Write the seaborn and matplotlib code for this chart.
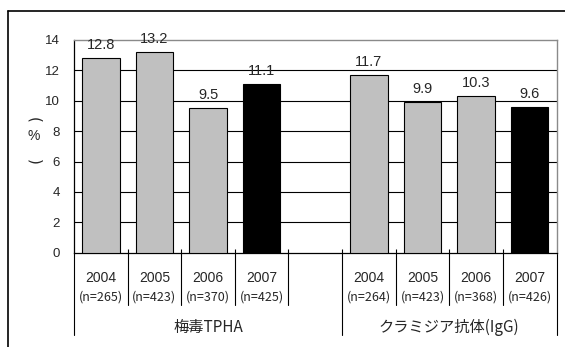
import matplotlib
matplotlib.use("Agg")
import matplotlib.pyplot as plt
from matplotlib.lines import Line2D
import matplotlib.transforms as mtransforms
import pandas as pd
import seaborn as sns

# --- data -------------------------------------------------------------
groups = ["梅毒TPHA", "クラミジア抗体(IgG)"]
years = ["2004", "2005", "2006", "2007"]
tpha_values = [12.8, 13.2, 9.5, 11.1]
tpha_n = [265, 423, 370, 425]
chlamydia_values = [11.7, 9.9, 10.3, 9.6]
chlamydia_n = [264, 423, 368, 426]
y_ticks = [0, 2, 4, 6, 8, 10, 12, 14]

rows = []
for g, vals, ns in [(groups[0], tpha_values, tpha_n),
                    (groups[1], chlamydia_values, chlamydia_n)]:
    for y, v, n in zip(years, vals, ns):
        rows.append({"slot": f"{g}|{y}", "group": g, "year": y, "n": n, "value": v})
df = pd.DataFrame(rows)

# one empty slot separates the two groups
order = [f"{groups[0]}|{y}" for y in years] + ["gap"] + [f"{groups[1]}|{y}" for y in years]
palette = {s: ("#000000" if s.endswith("2007") else "#C0C0C0") for s in df["slot"]}

# --- style ------------------------------------------------------------
sns.set_style("white")
plt.rcParams["font.family"] = ["Liberation Sans", "Noto Sans CJK JP", "DejaVu Sans"]
cjk = ["Noto Sans CJK JP", "DejaVu Sans"]

W, H = 565, 347
fig = plt.figure(figsize=(W / 100, H / 100), dpi=100)
x0, x1, y_top, y_bot = 74, 556.5, 40, 252.7
ax = fig.add_axes([x0 / W, (H - y_bot) / H, (x1 - x0) / W, (y_bot - y_top) / H])

sns.barplot(data=df, x="slot", y="value", hue="slot", order=order, palette=palette,
            dodge=False, width=0.7, edgecolor="black", linewidth=0.8,
            legend=False, ax=ax, zorder=3)

ax.set_ylim(0, 14)
ax.set_xlim(-0.5, len(order) - 0.5)
ax.set_yticks(y_ticks)
ax.set_yticklabels([str(t) for t in y_ticks], fontsize=9.5)
ax.tick_params(axis="y", length=0, pad=10)
ax.set_xlabel("")
ax.set_ylabel("")
ax.set_xticks([])
ax.set_xticks([i + 0.5 for i in range(len(order) - 1)], minor=True)
ax.tick_params(axis="x", which="minor", direction="in", length=3.2, width=0.8,
               color="black", bottom=True)

for t in y_ticks[1:-1]:
    ax.axhline(t, color="black", lw=0.8, zorder=1)

for side in ["left", "bottom"]:
    ax.spines[side].set_color("black")
    ax.spines[side].set_linewidth(0.9)
for side in ["top", "right"]:
    ax.spines[side].set_color("#8a8a8a")
    ax.spines[side].set_linewidth(1.0)
    ax.spines[side].set_visible(True)

# value labels above bars
for _, r in df.iterrows():
    pos = order.index(r["slot"])
    ax.annotate(f"{r['value']:.1f}", (pos, r["value"]), xytext=(0, 6.5),
                textcoords="offset points", ha="center", va="baseline",
                fontsize=10.5, zorder=4)

# category labels beneath the axis
trans = mtransforms.blended_transform_factory(ax.transData, ax.transAxes)
for _, r in df.iterrows():
    pos = order.index(r["slot"])
    ax.text(pos, -0.12, r["year"], transform=trans, ha="center", va="center", fontsize=10)
    ax.text(pos, -0.21, f"(n={r['n']})", transform=trans, ha="center", va="center",
            fontsize=9, family=cjk)

ax.text(2.0, -0.35, groups[0], transform=trans, ha="center", va="center",
        fontsize=11, family=cjk)
ax.text(6.5, -0.35, groups[1], transform=trans, ha="center", va="center",
        fontsize=11, family=cjk)

# separator lines between category cells and groups
short_end, long_end = -0.247, -0.389
for b in range(len(order) + 1):
    xb = b - 0.5
    end = long_end if b in (0, 5, len(order)) else short_end
    ax.add_line(Line2D([xb, xb], [0, end], transform=trans, color="black",
                       lw=0.8, clip_on=False))

# vertical unit label: (%) written top to bottom, brackets turned sideways
fig.text(34 / W, (H - 120) / H, "(", rotation=-90, rotation_mode="anchor",
         ha="center", va="center", fontsize=11, family=["DejaVu Sans"])
fig.text(34 / W, (H - 136) / H, "%", ha="center", va="center", fontsize=10)
fig.text(34 / W, (H - 162) / H, ")", rotation=-90, rotation_mode="anchor",
         ha="center", va="center", fontsize=11, family=["DejaVu Sans"])

# outer frame
fig.add_artist(Line2D([8 / W, 8 / W], [0, (H - 11) / H], color="black", lw=1.2))
fig.add_artist(Line2D([8 / W, 1], [(H - 11) / H, (H - 11) / H], color="black", lw=1.2))

fig.savefig("out.png", dpi=100)
